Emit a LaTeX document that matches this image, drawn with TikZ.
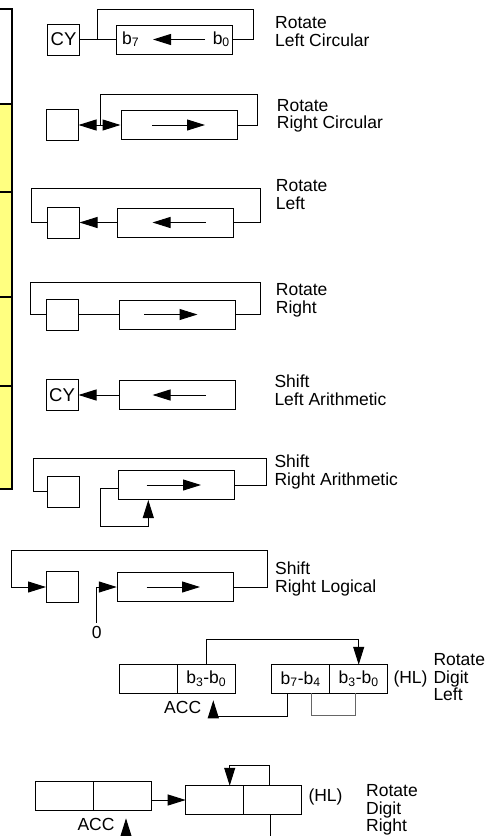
\documentclass[tikz,border=0pt]{standalone}
\usepackage{fontspec}
\setmainfont{Liberation Sans}
\usetikzlibrary{arrows.meta, positioning}
\definecolor{tabyellow}{RGB}{255,255,128}
\newcommand{\bitno}[1]{b\textsubscript{#1}}

\begin{document}
\begin{tikzpicture}[
  x=1pt, y=-1pt,
  every node/.style={font=\fontsize{17.5}{17.7}\selectfont},
  wire/.style={line width=1pt},
  arrow/.style={wire, -{Triangle[length=18pt, width=11pt]}},
  graywire/.style={line width=1pt, draw=black!60},
  cell/.style={draw, line width=1pt, inner sep=0pt, minimum width=32pt, minimum height=31pt},
  reg/.style={draw, line width=1pt, inner sep=0pt, minimum width=116pt, minimum height=29pt},
  half/.style={draw, line width=1pt, inner sep=0pt, outer sep=0pt, minimum width=58pt, minimum height=28.5pt},
  bit/.style={inner sep=0pt},
  op/.style={align=left, anchor=base west, inner sep=0pt}
]
\useasboundingbox (0,0) rectangle (488,836);

% table edge on the left
\fill[tabyellow] (0,104) rectangle (12,489);
\draw[line width=2pt] (0,9) -- (12,9) -- (12,489) -- (0,489);
\foreach \ty in {104,192,297,386}
  \draw[line width=2pt] (0,\ty) -- (12,\ty);

% rotate left circular
\node[cell, font=\fontsize{18.5}{18.5}\selectfont] (cy1) at (63.5,39.5) {CY};
\node[reg] (reg1) at (174,39.5) {};
\node[bit, anchor=base west] (b7) at (122,44) {\bitno{7}};
\node[bit, anchor=base east] (b0) at (230,44) {\bitno{0}};
\coordinate (top1L) at (97,9);
\coordinate (top1R) at (253,9);
\draw[wire] (cy1) -- (reg1);
\draw[wire] (reg1.east) -| (top1R) -- (top1L) -- (top1L |- reg1.west);
\draw[arrow] ([xshift=31pt]reg1.center) -- ([xshift=-21pt]reg1.center);
\node[op] (op1) at (275,46) {Rotate\\Left Circular};

% rotate right circular
\node[cell] (cell2) at (62,125) {};
\node[reg] (reg2) at (179,125) {};
\coordinate (top2L) at (100,94);
\coordinate (top2R) at (257,94);
\draw[wire] (reg2.east) -| (top2R) -- (top2L) -- (top2L |- reg2.west);
\draw[arrow] (top2L |- reg2.west) -- (cell2.east);
\draw[arrow] (top2L |- reg2.west) -- (reg2.west);
\draw[arrow] ([xshift=-27pt]reg2.center) -- ([xshift=26pt]reg2.center);
\node[op] (op2) at (276.7,128.7) {Rotate\\Right Circular};

% rotate left
\node[cell] (cell3) at (63,222.5) {};
\node[reg] (reg3) at (175.5,222.5) {};
\coordinate (top3L) at (31.7,188);
\coordinate (top3R) at (260.7,188);
\draw[wire] (reg3.east) -| (top3R) -- (top3L) |- (cell3.west);
\draw[arrow] (reg3.west) -- (cell3.east);
\draw[arrow] ([xshift=30pt]reg3.center) -- ([xshift=-23pt]reg3.center);
\node[op] (op3) at (275.7,209.3) {Rotate\\Left};

% rotate right
\node[cell] (cell4) at (62,314.5) {};
\node[reg] (reg4) at (177.5,314.5) {};
\coordinate (top4L) at (30.7,282);
\coordinate (top4R) at (260.3,282);
\draw[wire] (reg4.east) -| (top4R) -- (top4L) |- (cell4.west);
\draw[wire] (cell4) -- (reg4);
\draw[arrow] ([xshift=-33.5pt]reg4.center) -- ([xshift=20pt]reg4.center);
\node[op] (op4) at (275.7,313.3) {Rotate\\Right};

% shift left arithmetic
\node[cell, font=\fontsize{18.5}{18.5}\selectfont] (cy5) at (62,395) {CY};
\node[reg] (reg5) at (177.5,395) {};
\draw[arrow] (reg5) -- (cy5);
\draw[arrow] ([xshift=28pt]reg5.center) -- ([xshift=-25pt]reg5.center);
\node[op] (op5) at (274.3,405) {Shift\\Left Arithmetic};

% shift right arithmetic
\node[cell] (cell6) at (63.3,491.7) {};
\node[reg] (reg6) at (176.3,485) {};
\coordinate (top6L) at (33.3,458);
\coordinate (top6R) at (266,458);
\draw[wire] (reg6.east) -| (top6R) -- (top6L) |- (cell6.west);
\draw[arrow] ([yshift=-3pt]reg6.west) -- ++(-17,0) -- ++(0,38) -| ([xshift=-28pt]reg6.south);
\draw[arrow] ([xshift=-29.6pt]reg6.center) -- ([xshift=24.7pt]reg6.center);
\node[op] (op6) at (274.3,485) {Shift\\Right Arithmetic};

% shift right logical
\node[cell] (cell7) at (62.5,587) {};
\node[reg] (reg7) at (175.3,587) {};
\coordinate (top7L) at (11,550);
\coordinate (top7R) at (267,550);
\draw[arrow] (reg7.east) -| (top7R) -- (top7L) |- (cell7.west);
\node (zero) at (96.7,632.5) {0};
\draw[arrow] (zero.north) |- (reg7.west);
\draw[arrow] ([xshift=-28.6pt]reg7.center) -- ([xshift=24.7pt]reg7.center);
\node[op] (op7) at (275,592) {Shift\\Right Logical};

% rotate digit left
\node[half] (acc8a) at (148.3,679) {};
\node[half, right=0pt of acc8a] (acc8b) {\bitno{3}-\bitno{0}};
\node[half] (hl8a) at (300.7,679) {\bitno{7}-\bitno{4}};
\node[half, right=0pt of hl8a] (hl8b) {\bitno{3}-\bitno{0}};
\draw[arrow] (acc8b.north) -- ++(0,-25) -| (hl8b.north);
\draw[arrow, shorten >=7pt] ([xshift=-13pt]hl8a.south) -- ++(0,23) -| ([xshift=7pt]acc8b.south);
\draw[graywire] ([xshift=11pt]hl8a.south) -- ++(0,22) -| ([xshift=-3pt]hl8b.south);
\node[bit, anchor=base west] (acclab8) at (164,713.3) {ACC};
\node[bit, anchor=base west] (hllab8) at (393.3,683) {(HL)};
\node[op] (op8) at (433.3,700.7) {Rotate\\Digit\\Left};

% rotate digit right
\node[half] (acc9a) at (64.7,796) {};
\node[half, right=0pt of acc9a] (acc9b) {};
\node[half] (hl9a) at (214.7,800) {};
\node[half, right=0pt of hl9a] (hl9b) {};
\coordinate (hlout) at (270,836);
\coordinate (accin) at (126,836);
\draw[arrow] (acc9b.east |- hl9a.west) -- (hl9a.west);
\draw[arrow] ([xshift=-3pt]hl9b.north) -- ++(0,-20) -| ([xshift=15pt]hl9a.north);
\draw[wire] (hl9b.south -| hlout) -- (hlout);
\draw[arrow, shorten >=8pt] (accin) -- (accin |- acc9b.south);
\node[bit, anchor=base west] (acclab9) at (77.3,830.7) {ACC};
\node[bit, anchor=base west] (hllab9) at (308.3,801.7) {(HL)};
\node[op] (op9) at (366,831.7) {Rotate\\Digit\\Right};
\end{tikzpicture}
\end{document}
